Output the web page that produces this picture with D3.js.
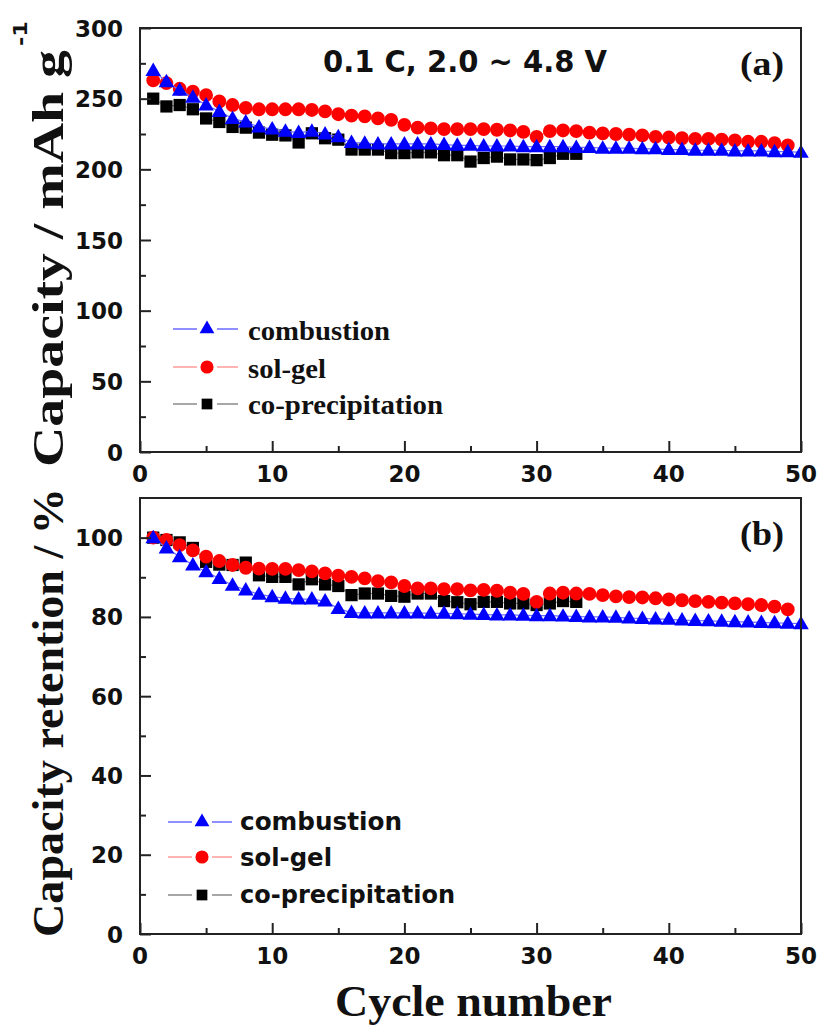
<!DOCTYPE html>
<html><head><meta charset="utf-8">
<script src="https://cdn.jsdelivr.net/npm/d3@7"></script>
<style>body{margin:0;background:#fff}svg{display:block}</style>
</head><body>
<script>
// ---------- data ----------
const seriesNames = ["combustion", "sol-gel", "co-precipitation"];
const xTicks = [0, 10, 20, 30, 40, 50];
const capTicks = [0, 50, 100, 150, 200, 250, 300];
const retTicks = [0, 20, 40, 60, 80, 100];

const capCombustion = [270,262,256,251,245.5,241,236,233.5,230,228.5,227,226,227,225,223,219,218.5,218,218,218,218,218,217.5,217,217,216.5,216.5,216.5,216,216,216,216,215.5,215.5,215,215,215,214.5,214.5,214,214,213.5,213.5,213.5,213,213,213,212.5,212.5,212];
const capSolGel = [263,261,257,255,252.5,248,245.5,243.5,242.5,242.5,242.5,242.5,242,241,239,238,237.5,236,235,231.5,229.5,229,228.5,228.5,228.5,228.5,228,227.5,226.5,223,227,227.5,227,226,225.5,225,224.5,224,223,222.5,222,221.5,221.5,221,220.5,219.5,219.5,218.5,217];
const capCoprec = [250,244.5,245.5,242.5,236,233.5,230,229.5,226,224.5,224,219,225.5,222,221,214,214,214,211.5,211.5,212,212,210,210,205.5,208,209,207,207,206.5,208,211,211];

const retCombustion = [100,97.4,95.2,93.1,91.4,89.7,88,86.8,85.7,85.1,84.7,84.5,84.5,84,82.1,81.1,81,81,81,81,81,80.9,80.9,80.8,80.7,80.6,80.5,80.5,80.4,80.3,80.3,80.2,80.1,80,80,79.9,79.7,79.6,79.5,79.4,79.2,79.1,79,78.9,78.8,78.7,78.6,78.5,78.4,78.3];
const retSolGel = [100,99.4,98.1,96.8,95.2,94.1,93.1,92.4,92.2,92.1,92.1,91.8,91.5,91,90.4,90.1,89.7,89,88.7,87.8,87.2,87.2,87,87,86.7,86.8,86.6,86.1,85.8,83.8,85.9,86.1,85.9,85.8,85.5,85.2,85,84.9,84.7,84.4,84.2,84,83.8,83.6,83.4,83.2,83,82.6,81.9];
const retCoprec = [100,99.4,98.8,97.4,93.9,93.2,93.1,93.7,90.5,90.1,90.1,88.2,89.5,88.2,87.8,85.5,85.9,85.9,85.3,85.1,85.9,85.9,84,83.7,83.2,83.8,83.8,83.4,83.4,83,83.4,84,83.8];

// ---------- styling ----------
const styles = [
  {sym: d3.symbolTriangle, size: 105, fill: "#0000ff", line: "#6a6aff", lsize: 95},
  {sym: d3.symbolCircle, size: 150, fill: "#ff0000", line: "#ff9a9a", lsize: 135},
  {sym: d3.symbolSquare, size: 150, fill: "#000000", line: "#8a8a8a", lsize: 115}
];

const W = 821, H = 1030;
const svg = d3.select("body").append("svg").attr("width", W).attr("height", H);
svg.append("rect").attr("width", W).attr("height", H).attr("fill", "#fff");

const x = d3.scaleLinear().domain([0, 50]).range([140, 801]);
const sans = "'DejaVu Sans', sans-serif";
const serif = "'Liberation Serif', 'Times New Roman', serif";

function panel(cfg) {
  const y = d3.scaleLinear().domain(cfg.domain).range([cfg.bottom, cfg.top]);
  const g = svg.append("g");
  const series = [cfg.data[2], cfg.data[1], cfg.data[0]];
  const st = [styles[2], styles[1], styles[0]];
  series.forEach((arr, i) => {
    const pts = arr.map((v, k) => [k + 1, v]);
    g.append("path").datum(pts)
      .attr("d", d3.line().x(d => x(d[0])).y(d => y(d[1])))
      .attr("fill", "none").attr("stroke", st[i].line).attr("stroke-width", 1.2);
    g.selectAll(null).data(pts).enter().append("path")
      .attr("transform", d => `translate(${x(d[0])},${y(d[1]) + (st[i].sym === d3.symbolTriangle ? 1 : 0)})`)
      .attr("d", d3.symbol().type(st[i].sym).size(st[i].size))
      .attr("fill", st[i].fill);
  });

  // axes (ticks inward)
  const xa = g.append("g").attr("transform", `translate(0,${cfg.bottom})`)
    .call(d3.axisBottom(x).tickValues(d3.range(0, 51, 5)).tickSize(-6).tickFormat(""));
  xa.selectAll(".tick line").filter(d => d % 10 === 0).attr("y2", -11);
  xa.select(".domain").remove();
  xa.selectAll(".tick line").attr("stroke", "#222").attr("stroke-width", 2);

  const ya = g.append("g").attr("transform", `translate(140,0)`)
    .call(d3.axisLeft(y).tickValues(cfg.minor).tickSize(-6).tickFormat(""));
  ya.selectAll(".tick line").filter(d => cfg.ticks.includes(d)).attr("x2", 11);
  ya.select(".domain").remove();
  ya.selectAll(".tick line").attr("stroke", "#222").attr("stroke-width", 2);

  // frame
  g.append("rect").attr("x", 140).attr("y", cfg.top).attr("width", 661).attr("height", cfg.bottom - cfg.top)
    .attr("fill", "none").attr("stroke", "#222").attr("stroke-width", 2);

  // tick labels
  g.selectAll(null).data(xTicks).enter().append("text")
    .attr("x", d => x(d)).attr("y", cfg.bottom + 30).attr("text-anchor", "middle")
    .attr("font-family", sans).attr("font-weight", "bold").attr("font-size", 23).attr("fill", "#111")
    .text(d => d);
  g.selectAll(null).data(cfg.ticks).enter().append("text")
    .attr("x", 123).attr("y", d => y(d) + 8.5).attr("text-anchor", "end")
    .attr("font-family", sans).attr("font-weight", "bold").attr("font-size", 23).attr("fill", "#111")
    .text(d => d);

  // panel label
  g.append("text").attr("x", 740).attr("y", cfg.top + 47)
    .attr("font-family", serif).attr("font-weight", "bold").attr("font-size", 33)
    .attr("textLength", 44).attr("lengthAdjust", "spacingAndGlyphs").attr("fill", "#111")
    .text(cfg.label);

  // legend
  const L = cfg.legend;
  seriesNames.forEach((name, i) => {
    const ly = L.lineY[i];
    g.append("line").attr("x1", L.x1).attr("x2", L.mx - 10).attr("y1", ly).attr("y2", ly)
      .attr("stroke", styles[i].line).attr("stroke-width", 1.5);
    g.append("line").attr("x1", L.mx + 10).attr("x2", L.x2).attr("y1", ly).attr("y2", ly)
      .attr("stroke", styles[i].line).attr("stroke-width", 1.5);
    g.append("path").attr("transform", `translate(${L.mx},${ly})`)
      .attr("d", d3.symbol().type(styles[i].sym).size(styles[i].lsize)).attr("fill", styles[i].fill);
    g.append("text").attr("x", L.tx).attr("y", L.base[i])
      .attr("font-family", L.font).attr("font-weight", "bold").attr("font-size", L.fs)
      .attr("textLength", L.len[i]).attr("lengthAdjust", "spacingAndGlyphs").attr("fill", "#111")
      .text(name);
  });
  return y;
}

panel({
  domain: [0, 300], top: 28, bottom: 452, ticks: capTicks, minor: d3.range(0, 301, 25),
  data: [capCombustion, capSolGel, capCoprec], label: "(a)",
  legend: {x1: 173, x2: 238, mx: 207, tx: 248, lineY: [329, 367, 404], base: [340, 378, 414],
           len: [142, 78, 195], font: serif, fs: 27}
});
panel({
  domain: [0, 110], top: 498, bottom: 934, ticks: retTicks, minor: d3.range(0, 101, 10),
  data: [retCombustion, retSolGel, retCoprec], label: "(b)",
  legend: {x1: 168, x2: 232, mx: 202, tx: 240, lineY: [822, 857, 895], base: [830, 866, 903],
           len: [162, 92, 215], font: sans, fs: 24}
});

// condition text
svg.append("text").attr("x", 323).attr("y", 72)
  .attr("font-family", sans).attr("font-weight", "bold").attr("font-size", 30)
  .attr("textLength", 284).attr("lengthAdjust", "spacingAndGlyphs").attr("fill", "#111")
  .text("0.1 C, 2.0 ~ 4.8 V");

// axis titles
svg.append("text").attr("transform", "translate(63,467) rotate(-90)")
  .attr("font-family", serif).attr("font-weight", "bold").attr("font-size", 44)
  .attr("textLength", 417).attr("lengthAdjust", "spacingAndGlyphs").attr("fill", "#111")
  .text("Capacity / mAh g");
svg.append("text").attr("transform", "translate(27,46) rotate(-90)")
  .attr("font-family", sans).attr("font-weight", "bold").attr("font-size", 20)
  .attr("textLength", 25).attr("lengthAdjust", "spacingAndGlyphs").attr("fill", "#111")
  .text("-1");
svg.append("text").attr("transform", "translate(63,937) rotate(-90)")
  .attr("font-family", serif).attr("font-weight", "bold").attr("font-size", 44)
  .attr("textLength", 449).attr("lengthAdjust", "spacingAndGlyphs").attr("fill", "#111")
  .text("Capacity retention / %");
svg.append("text").attr("x", 335).attr("y", 1016)
  .attr("font-family", serif).attr("font-weight", "bold").attr("font-size", 44)
  .attr("textLength", 277).attr("lengthAdjust", "spacingAndGlyphs").attr("fill", "#111")
  .text("Cycle number");
</script>
</body></html>
